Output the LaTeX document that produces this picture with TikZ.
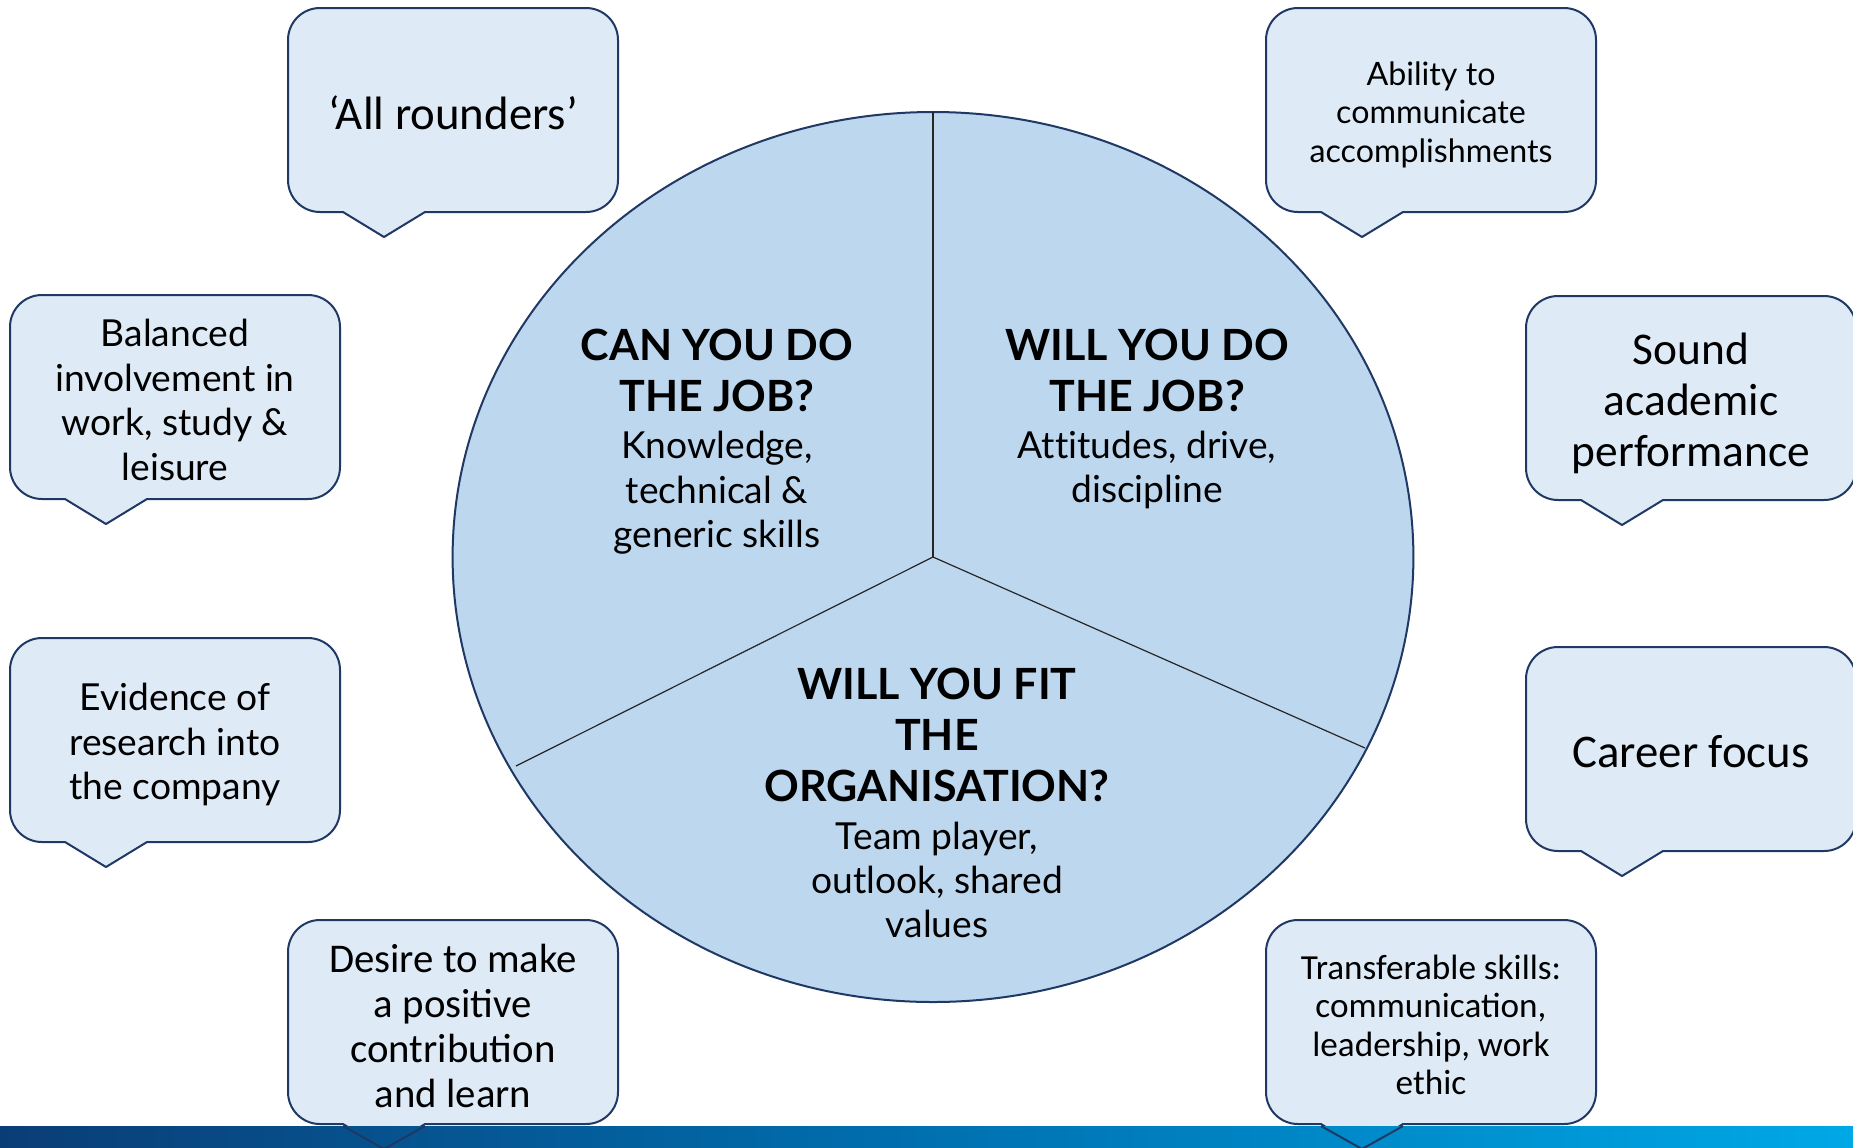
\documentclass[tikz,border=0pt]{standalone}
\usepackage{fontspec}
\setmainfont{Lato}[Ligatures=NoCommon]
\newfontfamily\calfont{Carlito}
\usetikzlibrary{shapes.geometric}
\definecolor{navy}{HTML}{1F3864}
\definecolor{pie}{HTML}{BDD7EE}
\definecolor{bub}{HTML}{DEEBF7}
\definecolor{barL}{HTML}{0A3D76}
\definecolor{barM}{HTML}{0070B0}
\definecolor{barR}{HTML}{00A8E6}
\tikzset{
  bubble/.style={draw=navy, fill=bub, line width=1pt, line join=round},
  tailline/.style={draw=navy, line width=1pt, line join=round},
  txt/.style={align=center, inner sep=0pt, text=black},
  divider/.style={draw=black!85, line width=0.6pt},
}
\newcommand{\callout}[2]{%
 \draw[bubble] ({#1+96},{#2+229}) -- ({#1+137},{#2+204}) -- ({#1+298},{#2+204})
  .. controls ({#1+315.7},{#2+204}) and ({#1+330},{#2+189.7}) .. ({#1+330},{#2+172})
  -- ({#1+330},{#2+32})
  .. controls ({#1+330},{#2+14.3}) and ({#1+315.7},{#2}) .. ({#1+298},{#2})
  -- ({#1+32},{#2})
  .. controls ({#1+14.3},{#2}) and ({#1},{#2+14.3}) .. ({#1},{#2+32})
  -- ({#1},{#2+172})
  .. controls ({#1},{#2+189.7}) and ({#1+14.3},{#2+204}) .. ({#1+32},{#2+204})
  -- ({#1+55},{#2+204}) -- cycle;}
\begin{document}
\begin{tikzpicture}[x=0.5pt, y=-0.5pt]
\useasboundingbox (0,0) rectangle (1853,1147);
\fill[white] (0,0) rectangle (1853,1147);

% central ellipse
\node[ellipse, draw=navy, fill=pie, line width=1pt, inner sep=0pt, outer sep=0pt,
      minimum width=480.4pt, minimum height=445pt] (circ) at (933,557) {};
\coordinate (ll) at (516,766);
\coordinate (lr) at (1365,748);
\draw[divider] (circ.center) -- (circ.north);
\draw[divider] (circ.center) -- (ll);
\draw[divider] (circ.center) -- (lr);

% callouts
\callout{288}{8}
\callout{1266}{8}
\callout{10}{295}
\callout{1526}{296}
\callout{10}{638}
\callout{1526}{647}
\callout{288}{920}
\callout{1266}{920}

% bottom bar
\shade[left color=barL, right color=barR, middle color=barM] (0,1126) rectangle (1853,1147);
\draw[tailline] ({288+55},1126) -- ({288+96},{920+229}) -- ({288+137},1126);
\draw[tailline] ({1266+55},1126) -- ({1266+96},{920+229}) -- ({1266+137},1126);

% central texts
\node[txt, font=\bfseries\fontsize{21.5}{25.5}\selectfont] (h1) at (717,370) {CAN YOU DO\\THE JOB?};
\node[txt, font=\fontsize{18.6}{22.2}\selectfont] (b1) at (717,493) {Knowledge,\\technical \&\\generic skills};
\node[txt, font=\bfseries\fontsize{21.5}{25.5}\selectfont] (h2) at (1147,370) {WILL YOU DO\\THE JOB?};
\node[txt, font=\fontsize{18.6}{22.2}\selectfont] (b2) at (1147,470) {Attitudes, drive,\\discipline};
\node[txt, font=\bfseries\fontsize{21.5}{25.5}\selectfont] (h3) at (937,735) {WILL YOU FIT\\THE\\ORGANISATION?};
\node[txt, font=\fontsize{18.6}{22.2}\selectfont] (b3) at (937,880) {Team player,\\outlook, shared\\values};

% callout texts
\node[txt, font=\calfont\fontsize{23.4}{25.4}\selectfont] (allr) at (453,113) {‘All rounders’};
\node[txt, font=\fontsize{16.1}{19.2}\selectfont] (abil) at (1431,114.5) {Ability to\\communicate\\accomplishments};
\node[txt, font=\fontsize{18.6}{22.3}\selectfont] (bal) at (175,400) {Balanced\\involvement in\\work, study \&\\leisure};
\node[txt, font=\calfont\fontsize{22.7}{25.4}\selectfont] (sound) at (1691,403.5) {Sound\\academic\\performance};
\node[txt, font=\fontsize{18.6}{22.3}\selectfont] (evid) at (175,744.5) {Evidence of\\research into\\the company};
\node[txt, font=\calfont\fontsize{23.4}{25.4}\selectfont] (career) at (1691,752) {Career focus};
\node[txt, font=\calfont\fontsize{20.4}{22.5}\selectfont] (desire) at (453,1026) {Desire to make\\a positive\\contribution\\and learn};
\node[txt, font=\calfont\fontsize{17.6}{19.2}\selectfont] (trans) at (1431,1025) {Transferable skills:\\communication,\\leadership, work\\ethic};
\end{tikzpicture}
\end{document}
